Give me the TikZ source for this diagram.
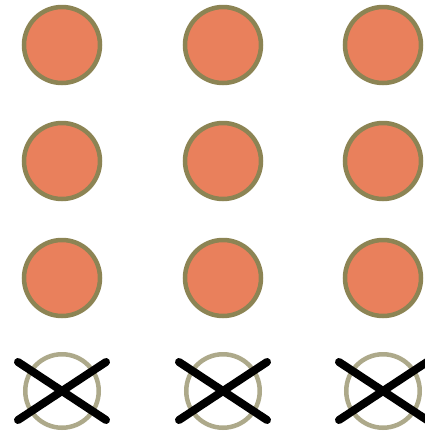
\documentclass[tikz,border=0pt]{standalone}
\usetikzlibrary{calc}
\definecolor{dotfill}{HTML}{E9805C}
\definecolor{dotedge}{HTML}{8C8454}
\definecolor{ringedge}{HTML}{ADA98A}
\begin{document}
\begin{tikzpicture}[x=1pt,y=-1pt,
  dotc/.style={circle,fill=dotfill,draw=dotedge,line width=4.5pt,minimum size=76pt,inner sep=0pt},
  ringc/.style={circle,fill=white,draw=ringedge,line width=4.5pt,minimum size=73.5pt,inner sep=0pt},
  xline/.style={black,line width=8pt,line cap=round}]
\useasboundingbox[fill=white] (0,0) rectangle (425,432);
\foreach \c/\x in {1/62,2/223,3/383}{
  \foreach \r/\y in {1/45,2/161,3/278}{
    \node[dotc] (d\r\c) at (\x,\y) {};
  }
  \node[ringc] (r\c) at (\x,391) {};
  \coordinate (r\c a) at ($(r\c.center)+(-44,-29)$);
  \coordinate (r\c b) at ($(r\c.center)+(44,29)$);
  \coordinate (r\c c) at ($(r\c.center)+(44,-29)$);
  \coordinate (r\c d) at ($(r\c.center)+(-44,29)$);
  \draw[xline] (r\c a) -- (r\c b);
  \draw[xline] (r\c c) -- (r\c d);
}
\end{tikzpicture}
\end{document}
